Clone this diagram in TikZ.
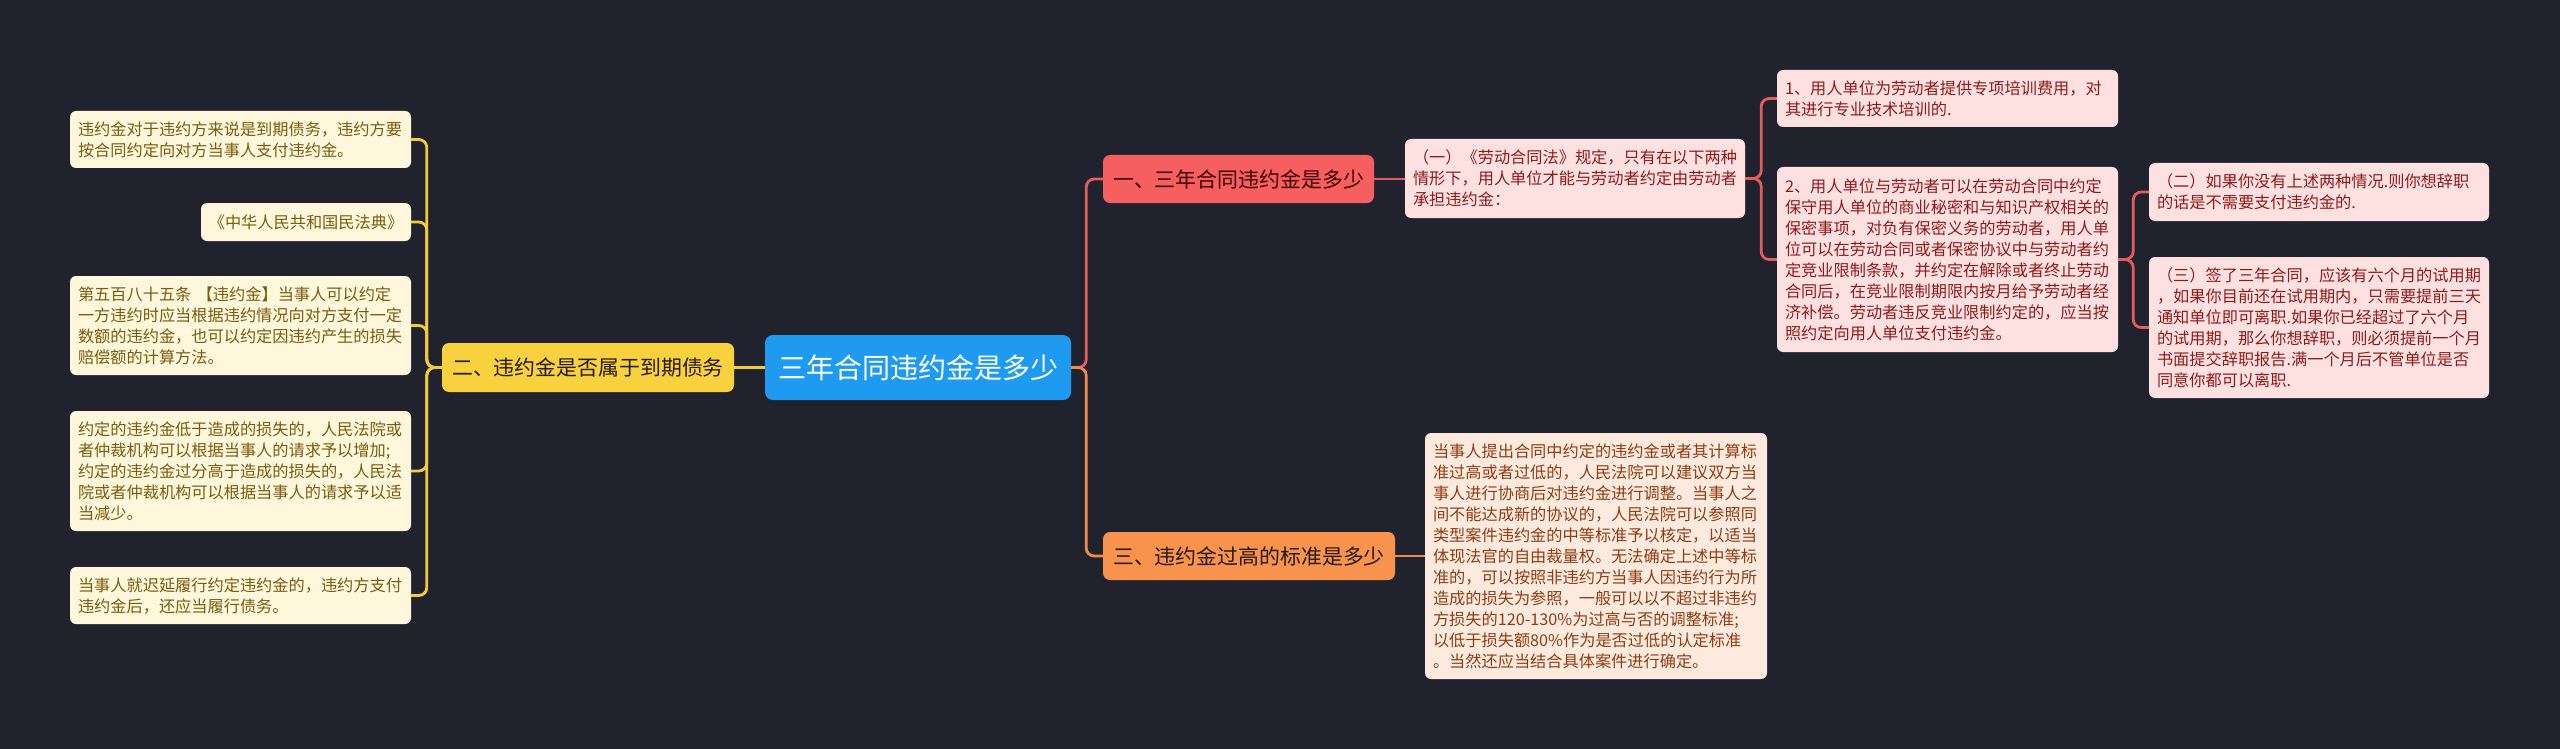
\documentclass[tikz,border=0pt]{standalone}
\usepackage{fontspec}
\setmainfont{Noto Sans CJK SC}
\usetikzlibrary{calc}
\definecolor{bg}{HTML}{20232E}
\definecolor{cblue}{HTML}{1E9BF0}
\definecolor{cyel}{HTML}{F8D13F}
\definecolor{cred}{HTML}{F55F5F}
\definecolor{corg}{HTML}{F7934C}
\definecolor{lyel}{HTML}{F3CA3A}
\definecolor{lred}{HTML}{E35D5D}
\definecolor{lorg}{HTML}{F08A48}
\definecolor{fyel}{HTML}{FEF7DC}
\definecolor{tyel}{HTML}{7A5C10}
\definecolor{fred}{HTML}{FDE1E1}
\definecolor{tred}{HTML}{8E1B1B}
\definecolor{forg}{HTML}{FDEADF}
\definecolor{torg}{HTML}{8E3D12}
\tikzset{
  leafbox/.style={rounded corners=6pt, inner xsep=8pt, inner ysep=0pt, align=left,
    font=\fontsize{16.2}{21}\selectfont, text width=325pt},
  leafY/.style={leafbox, fill=fyel, text=tyel},
  leafR/.style={leafbox, fill=fred, text=tred, text width=324pt},
  leafO/.style={leafbox, fill=forg, text=torg},
  branchbox/.style={rounded corners=7pt, inner sep=0pt, minimum height=48pt,
    font=\fontsize{20.9}{24}\selectfont},
  link/.style={line width=2.8pt, rounded corners=8pt}
}
\begin{document}
\begin{tikzpicture}[x=1pt,y=-1pt]
\fill[bg] (0,0) rectangle (2560,749);
\useasboundingbox (0,0) rectangle (2560,749);

% center
\node[rounded corners=8pt, fill=cblue, text=white, inner sep=0pt,
  minimum width=306pt, minimum height=65pt, font=\fontsize{28}{32}\selectfont]
  (C) at (918,367.5) {三年合同违约金是多少};

% branches
\node[branchbox, fill=cyel, text=black!80!brown, minimum width=292pt, minimum height=49pt]
  (B2) at (588,367.5) {二、违约金是否属于到期债务};
\node[branchbox, fill=cred, text=black!75!red, minimum width=271pt]
  (B1) at (1238.5,179) {一、三年合同违约金是多少};
\node[branchbox, fill=corg, text=black!80!brown, minimum width=292pt]
  (B3) at (1249,556) {三、违约金过高的标准是多少};

% left leaves
\node[leafY, minimum height=57pt] (L1) at (240.5,139.5)
  {违约金对于违约方来说是到期债务，违约方要\\按合同约定向对方当事人支付违约金。};
\node[rounded corners=6pt, inner sep=0pt, fill=fyel, text=tyel,
  font=\fontsize{16.2}{21}\selectfont, minimum width=210pt, minimum height=38pt]
  (L2) at (306,222) {《中华人民共和国民法典》};
\node[leafY, minimum height=99pt] (L3) at (240.5,325.5)
  {第五百八十五条 【违约金】当事人可以约定\\一方违约时应当根据违约情况向对方支付一定\\数额的违约金，也可以约定因违约产生的损失\\赔偿额的计算方法。};
\node[leafY, minimum height=120pt] (L4) at (240.5,471)
  {约定的违约金低于造成的损失的，人民法院或\\者仲裁机构可以根据当事人的请求予以增加;\\约定的违约金过分高于造成的损失的，人民法\\院或者仲裁机构可以根据当事人的请求予以适\\当减少。};
\node[leafY, minimum height=57pt] (L5) at (240.5,595.5)
  {当事人就迟延履行约定违约金的，违约方支付\\违约金后，还应当履行债务。};

% right leaves
\node[leafR, minimum height=79pt] (R1) at (1575,178.5)
  {（一）《劳动合同法》规定，只有在以下两种\\情形下，用人单位才能与劳动者约定由劳动者\\承担违约金：};
\node[leafR, text width=325pt, minimum height=57pt] (R1a) at (1947.5,98.5)
  {1、用人单位为劳动者提供专项培训费用，对\\其进行专业技术培训的.};
\node[leafR, text width=325pt, minimum height=185pt] (R1b) at (1947.5,259.5)
  {2、用人单位与劳动者可以在劳动合同中约定\\保守用人单位的商业秘密和与知识产权相关的\\保密事项，对负有保密义务的劳动者，用人单\\位可以在劳动合同或者保密协议中与劳动者约\\定竞业限制条款，并约定在解除或者终止劳动\\合同后，在竞业限制期限内按月给予劳动者经\\济补偿。劳动者违反竞业限制约定的，应当按\\照约定向用人单位支付违约金。};
\node[leafR, minimum height=58pt] (R1b1) at (2319,192)
  {（二）如果你没有上述两种情况.则你想辞职\\的话是不需要支付违约金的.};
\node[leafR, minimum height=141pt] (R1b2) at (2319,327.5)
  {（三）签了三年合同，应该有六个月的试用期\\，如果你目前还在试用期内，只需要提前三天\\通知单位即可离职.如果你已经超过了六个月\\的试用期，那么你想辞职，则必须提前一个月\\书面提交辞职报告.满一个月后不管单位是否\\同意你都可以离职.};
\node[leafO, text width=326pt, minimum height=246pt] (R3) at (1596,556)
  {当事人提出合同中约定的违约金或者其计算标\\准过高或者过低的，人民法院可以建议双方当\\事人进行协商后对违约金进行调整。当事人之\\间不能达成新的协议的，人民法院可以参照同\\类型案件违约金的中等标准予以核定，以适当\\体现法官的自由裁量权。无法确定上述中等标\\准的，可以按照非违约方当事人因违约行为所\\造成的损失为参照，一般可以以不超过非违约\\方损失的120-130\%为过高与否的调整标准;\\以低于损失额80\%作为是否过低的认定标准\\。当然还应当结合具体案件进行确定。};

% connectors
\draw[link, lyel] (C.west) -- (B2.east);
\draw[link, lred] (C.east) -- ++(15,0) |- (B1.west);
\draw[link, lorg] (C.east) -- ++(15,0) |- (B3.west);

\foreach \t in {L1,L2,L3,L4,L5}
  \draw[link, lyel] (B2.west) -- ++(-15,0) |- (\t.east);

\draw[link, lred] (B1.east) -- (B1.east -| R1.west);
\draw[link, lred] (R1.east) -- ++(16,0) |- (R1a.west);
\draw[link, lred] (R1.east) -- ++(16,0) |- (R1b.west);
\draw[link, lred] (R1b.east) -- ++(15,0) |- (R1b1.west);
\draw[link, lred] (R1b.east) -- ++(15,0) |- (R1b2.west);
\draw[link, lorg] (B3.east) -- (B3.east -| R3.west);
\end{tikzpicture}
\end{document}
